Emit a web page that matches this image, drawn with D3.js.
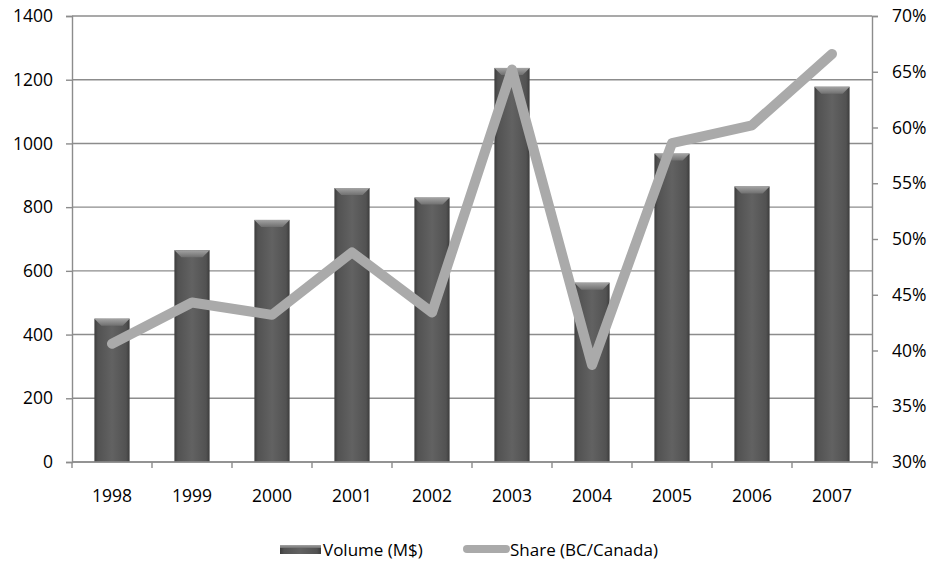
<!DOCTYPE html>
<html>
<head>
<meta charset="utf-8">
<script src="https://cdn.jsdelivr.net/npm/d3@7"></script>
<style>
  body { margin: 0; background: #fff; }
  svg text { font-family: "Open Sans", sans-serif; fill: #000; }
</style>
</head>
<body>
<svg id="chart" width="931" height="561"></svg>
<script>

// Data.
var years = ['1998', '1999', '2000', '2001', '2002', '2003', '2004', '2005', '2006', '2007'];
var volume = [450, 665, 760, 860, 830, 1237, 563, 968, 865, 1178];
var share = [0.406, 0.443, 0.432, 0.488, 0.434, 0.652, 0.387, 0.586, 0.602, 0.666];
var leftTicks = [0, 200, 400, 600, 800, 1000, 1200, 1400];
var rightTicks = [0.30, 0.35, 0.40, 0.45, 0.50, 0.55, 0.60, 0.65, 0.70];

// Plot box.
var plotLeft = 72, plotRight = 872, plotTop = 16, plotBottom = 462;
var tickFont = 17.5, legendFont = 17;
var axisColor = '#8c8c8c';

var svg = d3.select('#chart');

var x = d3.scaleBand().domain(years).range([plotLeft, plotRight]).paddingInner(0.56).paddingOuter(0.28);
var xCat = d3.scaleBand().domain(years).range([plotLeft, plotRight]);
var y = d3.scaleLinear().domain([0, 1400]).range([plotBottom, plotTop]);
var y2 = d3.scaleLinear().domain([0.30, 0.70]).range([plotBottom, plotTop]);

// Gradients.
var defs = svg.append('defs');
var grad = defs.append('linearGradient').attr('id', 'barGrad')
  .attr('x1', '0%').attr('x2', '100%').attr('y1', '0%').attr('y2', '0%');
[[0, '#3c3c3c'], [0.1, '#525252'], [0.5, '#626262'], [0.9, '#525252'], [1, '#3c3c3c']]
  .forEach(function(s) { grad.append('stop').attr('offset', s[0]).attr('stop-color', s[1]); });
var bevGrad = defs.append('linearGradient').attr('id', 'bevGrad')
  .attr('x1', '0%').attr('x2', '0%').attr('y1', '0%').attr('y2', '100%');
[[0, '#a4a4a4'], [1, '#707070']]
  .forEach(function(s) { bevGrad.append('stop').attr('offset', s[0]).attr('stop-color', s[1]); });

// Gridlines.
svg.append('g').selectAll('line').data(leftTicks).join('line')
  .attr('x1', plotLeft).attr('x2', plotRight)
  .attr('y1', function(d) { return y(d); }).attr('y2', function(d) { return y(d); })
  .attr('stroke', axisColor).attr('stroke-width', 1.4);

// Bars.
var bars = svg.append('g');
bars.selectAll('rect').data(volume).join('rect')
  .attr('x', function(d, i) { return x(years[i]); })
  .attr('y', function(d) { return y(d); })
  .attr('width', x.bandwidth())
  .attr('height', function(d) { return plotBottom - y(d); })
  .attr('fill', 'url(#barGrad)');

// Top bevel.
var bev = 7;
bars.selectAll('path.bevel').data(volume).join('path').attr('class', 'bevel')
  .attr('d', function(d, i) {
    var x0 = x(years[i]), x1 = x0 + x.bandwidth(), t = y(d);
    return 'M' + x0 + ',' + t + 'L' + x1 + ',' + t + 'L' + (x1 - bev) + ',' + (t + bev) +
      'L' + (x0 + bev) + ',' + (t + bev) + 'Z';
  })
  .attr('fill', 'url(#bevGrad)');

// Left axis.
var axL = svg.append('g').attr('transform', 'translate(' + plotLeft + ',0)')
  .call(d3.axisLeft(y).tickValues(leftTicks).tickSize(6).tickPadding(13).tickFormat(d3.format('d')));
axL.select('.domain').attr('stroke', axisColor).attr('stroke-width', 1.4);
axL.selectAll('.tick line').attr('stroke', axisColor).attr('stroke-width', 1.4);
axL.selectAll('text').attr('font-size', tickFont).attr('font-family', '"Open Sans", sans-serif');

// Right axis.
var axR = svg.append('g').attr('transform', 'translate(' + plotRight + ',0)')
  .call(d3.axisRight(y2).tickValues(rightTicks).tickSize(6).tickPadding(14).tickFormat(d3.format('.0%')));
axR.select('.domain').attr('stroke', axisColor).attr('stroke-width', 1.4);
axR.selectAll('.tick line').attr('stroke', axisColor).attr('stroke-width', 1.4);
axR.selectAll('text').attr('font-size', tickFont).attr('font-family', '"Open Sans", sans-serif');

// Bottom axis.
svg.append('line').attr('x1', plotLeft).attr('x2', plotRight).attr('y1', plotBottom).attr('y2', plotBottom)
  .attr('stroke', axisColor).attr('stroke-width', 1.4);
svg.append('g').selectAll('line').data(years.concat(['end'])).join('line')
  .attr('x1', function(d, i) { return plotLeft + i * xCat.step(); })
  .attr('x2', function(d, i) { return plotLeft + i * xCat.step(); })
  .attr('y1', plotBottom).attr('y2', plotBottom + 6)
  .attr('stroke', axisColor).attr('stroke-width', 1.4);
svg.append('g').selectAll('text').data(years).join('text')
  .attr('x', function(d) { return xCat(d) + xCat.bandwidth() / 2; })
  .attr('y', plotBottom + 40)
  .attr('text-anchor', 'middle')
  .attr('font-size', tickFont)
  .text(function(d) { return d; });

// Share line.
var line = d3.line()
  .x(function(d, i) { return xCat(years[i]) + xCat.bandwidth() / 2; })
  .y(function(d) { return y2(d); });
svg.append('path').datum(share)
  .attr('d', line)
  .attr('fill', 'none')
  .attr('stroke', '#aaaaaa')
  .attr('stroke-width', 10)
  .attr('stroke-linejoin', 'round')
  .attr('stroke-linecap', 'round');

// Legend.
var lg = svg.append('g');
lg.append('rect').attr('x', 280).attr('y', 545).attr('width', 41).attr('height', 9)
  .attr('fill', 'url(#barGrad)');
lg.append('rect').attr('x', 280).attr('y', 545).attr('width', 41).attr('height', 3)
  .attr('fill', 'url(#bevGrad)');
lg.append('text').attr('x', 323).attr('y', 556).attr('font-size', legendFont).text('Volume (M$)');
lg.append('line').attr('x1', 467).attr('x2', 506).attr('y1', 549).attr('y2', 549)
  .attr('stroke', '#aaaaaa').attr('stroke-width', 8).attr('stroke-linecap', 'round');
lg.append('text').attr('x', 510).attr('y', 556).attr('font-size', legendFont).text('Share (BC/Canada)');

</script>
</body>
</html>
